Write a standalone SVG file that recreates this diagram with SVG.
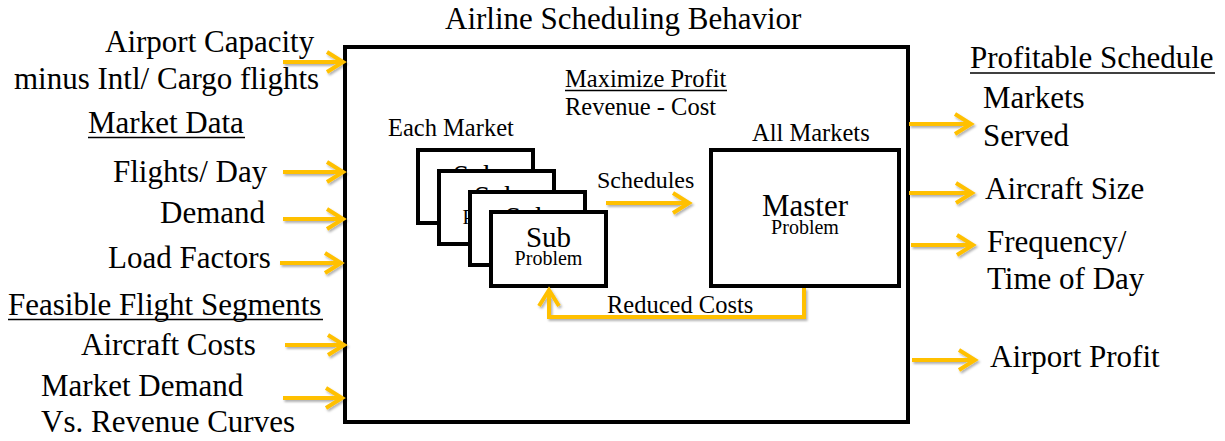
<svg xmlns="http://www.w3.org/2000/svg" width="1225" height="441" viewBox="0 0 1225 441" font-family="'Liberation Serif', Tinos, 'Times New Roman', 'DejaVu Serif', serif">
<style>
text{font-family:"Liberation Serif",Tinos,"Times New Roman","DejaVu Serif",serif;fill:#000}
.l{font-size:31px}
.m{font-size:24.5px}
.s{font-size:24px}
.box{fill:#fff;stroke:#000;stroke-width:4}
.ul{stroke:#000;stroke-width:1.6}
.arr{fill:none;stroke:#FFC000;stroke-width:4;marker-end:url(#chev)}
</style>
<defs>
<marker id="chev" markerUnits="userSpaceOnUse" markerWidth="24" markerHeight="26" refX="19" refY="13" orient="auto" overflow="visible">
<path d="M3,3 L19,13 L3,23" fill="none" stroke="#FFC000" stroke-width="4" stroke-linejoin="miter"/>
</marker>
<filter id="sh" x="-20%" y="-50%" width="140%" height="200%">
<feDropShadow dx="1.5" dy="2" stdDeviation="1.2" flood-color="#000" flood-opacity="0.3"/>
</filter>
</defs>
<rect width="1225" height="441" fill="#fff"/>

<g id="inputs">
<text class="l" x="105" y="52">Airport Capacity</text>
<text class="l" x="14" y="89">minus Intl/ Cargo flights</text>
<text class="l" x="88" y="133">Market Data</text>
<line class="ul" x1="88" y1="137.5" x2="245" y2="137.5"/>
<text class="l" x="113" y="182">Flights/ Day</text>
<text class="l" x="160" y="223">Demand</text>
<text class="l" x="108" y="268">Load Factors</text>
<text class="l" x="8" y="315">Feasible Flight Segments</text>
<line class="ul" x1="8" y1="319.5" x2="323" y2="319.5"/>
<text class="l" x="81" y="355">Aircraft Costs</text>
<text class="l" x="41" y="396">Market Demand</text>
<text class="l" x="41" y="432">Vs. Revenue Curves</text>
</g>

<g id="airline-scheduling">
<text class="l" x="445" y="29">Airline Scheduling Behavior</text>
<rect class="box" x="345" y="47" width="563" height="375" fill="none"/>
<text class="m" x="565" y="87">Maximize Profit</text>
<line class="ul" x1="565" y1="90.5" x2="727" y2="90.5"/>
<text class="m" x="565" y="115">Revenue - Cost</text>
<text class="m" x="388" y="136">Each Market</text>
<text class="m" x="752" y="141">All Markets</text>
</g>

<g id="sub1">
<rect class="box" x="418" y="150" width="115" height="73"/>
<text x="475.5" y="185" font-size="29" text-anchor="middle">Sub</text>
<text x="475.5" y="203" font-size="20" text-anchor="middle">Problem</text>
</g>
<g id="sub2">
<rect class="box" x="439" y="171" width="115" height="73"/>
<text x="496.5" y="206" font-size="29" text-anchor="middle">Sub</text>
<text x="496.5" y="224" font-size="20" text-anchor="middle">Problem</text>
</g>
<g id="sub3">
<rect class="box" x="470" y="192" width="115" height="73"/>
<text x="527.5" y="227" font-size="29" text-anchor="middle">Sub</text>
<text x="527.5" y="245" font-size="20" text-anchor="middle">Problem</text>
</g>
<g id="sub4">
<rect class="box" x="491" y="212" width="115" height="74"/>
<text x="548.5" y="247" font-size="29" text-anchor="middle">Sub</text>
<text x="548.5" y="265" font-size="20" text-anchor="middle">Problem</text>
</g>

<g id="master">
<rect class="box" x="711" y="150" width="188" height="136"/>
<text x="805" y="216" font-size="31" text-anchor="middle">Master</text>
<text x="805" y="234" font-size="20" text-anchor="middle">Problem</text>
</g>

<g id="outputs">
<text class="l" x="970" y="68">Profitable Schedule</text>
<line class="ul" x1="970" y1="73" x2="1215" y2="73"/>
<text class="l" x="983" y="108">Markets</text>
<text class="l" x="983" y="146">Served</text>
<text class="l" x="985" y="199">Aircraft Size</text>
<text class="l" x="987" y="252">Frequency/</text>
<text class="l" x="987" y="289">Time of Day</text>
<text class="l" x="990" y="367">Airport Profit</text>
</g>

<g id="connectors" filter="url(#sh)">
<path class="arr" d="M283,62 H343"/>
<path class="arr" d="M283,172 H343"/>
<path class="arr" d="M283,219 H343"/>
<path class="arr" d="M280,263 H341"/>
<path class="arr" d="M285,345 H344"/>
<path class="arr" d="M283,398 H342"/>
<path class="arr" d="M606,203 H689"/>
<path class="arr" d="M804,288 V317 H549 V290"/>
<path class="arr" d="M909,124 H971"/>
<path class="arr" d="M909,193 H972"/>
<path class="arr" d="M911,245 H973"/>
<path class="arr" d="M912,360 H975"/>
</g>
<g id="connector-labels">
<text class="s" x="597" y="188">Schedules</text>
<text class="m" x="607" y="313">Reduced Costs</text>
</g>
</svg>
